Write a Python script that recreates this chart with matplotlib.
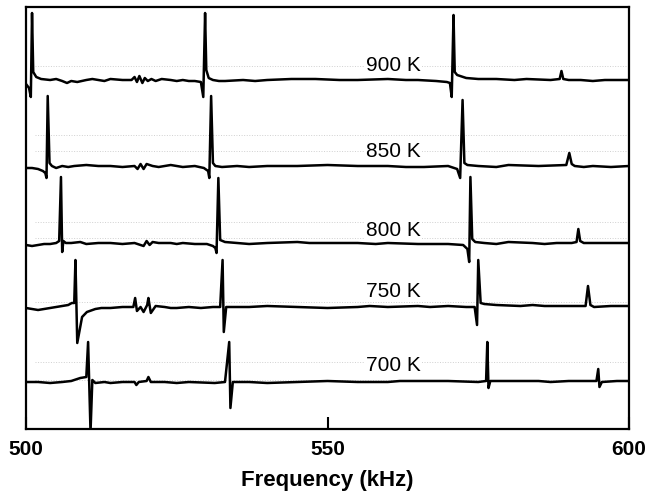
import matplotlib
matplotlib.use('Agg')
import matplotlib.pyplot as plt

plt.rcParams['font.family'] = ['Liberation Sans', 'DejaVu Sans']

# spectra: (frequency kHz, signal relative to own baseline, arb. units)
t900 = [(500.0, -4), (500.5, -8), (500.8, -17), (501.0, 67), (501.2, 8), (501.7, 3),
        (502.5, 1), (504, 0), (505, 1), (506, -1), (506.8, -3), (507.5, -1),
        (508.5, -2), (510, 0), (511, 1), (512, 0), (513, -1), (514, 1),
        (516, 0), (517.5, 0), (518.0, 3), (518.4, -2), (518.8, 4), (519.3, -3),
        (519.7, 2), (520.2, -1), (520.8, 1), (521.5, -1), (522.5, 1), (524, 0),
        (525, -1), (526, 0), (527, -1), (528, -1), (529.0, -2), (529.4, -17),
        (529.7, 67), (529.9, 10), (530.3, 2), (531, 0), (532, -1), (533, -1),
        (536, 0), (538, -1), (540, 0), (544, 1), (548, 1), (552, 0), (555, 0),
        (560, 1), (563, 0), (565, 0), (568, -1), (569.8, -2), (570.3, -3),
        (570.6, -17), (570.9, 65), (571.1, 8), (571.5, 5), (573, 2), (575, 1),
        (578, 1), (581, 0), (583, 1), (587, 0), (588.5, 1), (588.8, 9), (589.1, 1),
        (590, 0), (592, 0), (594, -1), (596, 0), (600, 0)]
t850 = [(500.0, -2), (501, -2), (502, -3), (502.8, -5), (503.2, -7), (503.4, -12),
        (503.6, 70), (503.9, 3), (504.3, 0), (505, -2), (506, 0), (507, -1),
        (508, 0), (510, 1), (512, 0), (514, 0), (516, -1), (518, 0), (518.5, -3),
        (519, 2), (519.5, -3), (520, 2), (521, 0), (522, -1), (524, 1), (526, -1),
        (528, 0), (529.5, -2), (530.2, -5), (530.4, -12), (530.7, 70), (531.0, 3),
        (531.4, 0), (532.5, -1), (535, 0), (537, -1), (540, 0), (545, 0),
        (550, 1), (555, 0), (560, 0), (563, -1), (566, -1), (570, 0), (571.5, -3),
        (572.0, -12), (572.4, 66), (572.7, 3), (573.2, 1), (575, 0), (578, -1),
        (580, 1), (585, 0), (589.6, 1), (590.1, 13), (590.5, 2), (591, 0),
        (592.5, -1), (594, 0), (597, -1), (600, 0)]
t800 = [(500.0, -2), (501, -3), (502, -2), (503, -1), (504, -1), (505.0, 0),
        (505.5, 2), (505.8, 66), (506.0, -9), (506.2, 2), (506.6, 0), (507.5, 0),
        (509, 1), (510, -1), (512, 0), (514, 0), (516, -1), (518, 0), (519.5, -3),
        (520, 2), (520.5, -2), (521, 1), (522, 0), (524, 0), (525, -1), (526, 0),
        (528, -1), (530, -1), (531.0, -3), (531.4, -5), (531.6, -10), (531.9, 65),
        (532.2, 3), (533, 1), (535, 0), (537, -1), (540, 0), (545, 1), (547, 0),
        (550, 0), (555, 0), (558, -1), (560, 0), (565, -1), (570, -1), (572.5, -2),
        (573.2, -6), (573.5, -19), (573.7, 66), (574.0, 4), (574.5, 1), (576, 0),
        (578, -1), (580, 1), (584, 0), (586, -1), (588, 0), (590.5, 0), (591.3, 1),
        (591.6, 14), (591.9, 2), (592.5, 0), (596, 0), (600, 0)]
t750 = [(500.0, -1), (501, -2), (502, -3), (503, -2), (504, -1), (505, 0),
        (506, 1), (507, 2), (507.6, 4), (508.0, 4), (508.2, 47), (508.5, -36),
        (509.3, -10), (510.1, -5), (511.5, -2), (512.5, -1), (514, -1), (516, 0),
        (517.8, 0), (518.1, 9), (518.4, -4), (519, 0), (519.5, -5), (520.1, 2),
        (520.3, 9), (520.7, -6), (521.5, 1), (523, 0), (524, -1), (525, -1),
        (527, 0), (529, -1), (531, 0), (532.2, 0), (532.6, 47), (532.8, -25),
        (533.2, 0), (534, 0), (537, 0), (540, 1), (545, 0), (550, -1), (555, 0),
        (557, 1), (560, 0), (565, 1), (567, 0), (570, 1), (573, 0), (574.4, 0),
        (574.8, -18), (575.0, 47), (575.4, 4), (576, 3), (578, 2), (582, 1),
        (584, 2), (586, 1), (590, 1), (592.8, 1), (593.2, 21), (593.6, 2),
        (594.2, 0), (597, 1), (600, 1)]
t700 = [(500.0, 0), (502, 0), (504, -1), (506, 0), (507.5, 1), (509, 4),
        (510.0, 5), (510.3, 40), (510.7, -50), (511.0, 2), (511.5, -1), (513, 0),
        (514, -1), (516, 0), (518.0, 0), (518.3, -3), (518.7, 0), (520.0, 1),
        (520.3, 5), (520.7, 0), (523, 0), (525, -1), (527, 0), (531.3, -1),
        (533.0, 0), (533.7, 40), (533.9, -26), (534.3, 0), (537, 0), (540, -1),
        (545, 0), (550, 1), (555, 0), (560, 0), (562, 1), (565, 1), (570, 1),
        (575, 0), (576.3, 1), (576.5, 40), (576.7, -6), (577.0, 1), (580, 1),
        (585, 1), (587, 0), (590, 1), (594.6, 1), (594.9, 13), (595.1, -5),
        (595.5, 0), (598, 1), (600, 1)]

traces = [t900, t850, t800, t750, t700]
labels = ['900 K', '850 K', '800 K', '750 K', '700 K']
offsets = [349, 263, 186, 122, 47]
label_y = [9.5, 9.3, 7, 10.3, 11.3]
dotted = [[14], [31, 15], [21, 5], [5], [20, 2]]

fig = plt.figure(figsize=(6.45, 4.94), dpi=100)
ax = fig.add_axes([26/645, 1-429/494, 603/645, 422/494])

for tr, lab, off, ly, dots in zip(traces, labels, offsets, label_y, dotted):
    f = [p[0] for p in tr]
    a = [p[1] + off for p in tr]
    for d in dots:
        ax.hlines(off + d, 501.5, 599.5, colors='#d0d0d0', linestyles=':', lw=0.7, zorder=1)
    ax.plot(f, a, color='black', lw=1.8, zorder=3)
    ax.text(556.4, off + ly, lab, fontsize=15, ha='left', va='baseline', zorder=2,
            bbox=dict(facecolor='white', edgecolor='none', pad=1))

ax.set_xlim(500, 600)
ax.set_ylim(0, 422)
ax.set_yticks([])
ax.set_xticks([500, 550, 600])
ax.set_xticklabels(['500', '550', '600'], fontsize=15, fontweight='bold')
ax.tick_params(axis='x', direction='in', length=9, width=1.5, pad=8)
for s in ax.spines.values():
    s.set_linewidth(1.6)
ax.set_xlabel('Frequency (kHz)', fontsize=16, fontweight='bold', labelpad=8)

fig.savefig('out.png', dpi=100)
